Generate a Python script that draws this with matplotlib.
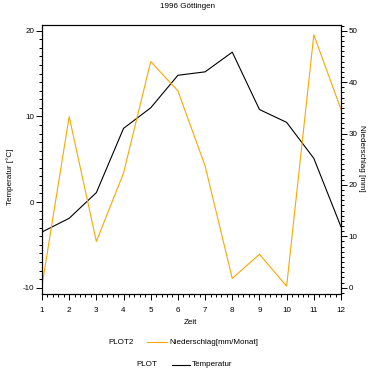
import matplotlib
matplotlib.use("Agg")
import matplotlib.pyplot as plt
from matplotlib.ticker import MultipleLocator
from matplotlib.lines import Line2D

plt.rcParams['font.family'] = ['Liberation Sans', 'DejaVu Sans']

# ---- data ----
months = [1, 2, 3, 4, 5, 6, 7, 8, 9, 10, 11, 12]
temperature = [-3.5, -1.9, 1.1, 8.6, 11.0, 14.8, 15.2, 17.5, 10.8, 9.3, 5.1, -2.9]
precipitation = [0.4, 33.3, 9.0, 22.3, 44.0, 38.3, 23.7, 1.8, 6.5, 0.3, 49.2, 34.7]

x_ticks = list(range(1, 13))
left_ticks = [-10, 0, 10, 20]
right_ticks = [0, 10, 20, 30, 40, 50]

title = "1996 Göttingen"
xlabel = "Zeit"
left_label = "Temperatur [°C]"
right_label = "Niederschlag [mm]"
legend_rows = [("PLOT2", "Niederschlag[mm/Monat]"), ("PLOT", "Temperatur")]

ORANGE = '#ffa500'
FS = 5.8
W, H = 374, 374

fig = plt.figure(figsize=(W / 100, H / 100), dpi=100)
L, R, T, B = 42, 341, 25, 294
ax = fig.add_axes([L / W, 1 - B / H, (R - L) / W, (B - T) / H])

ax.plot(months, temperature, color='black', lw=0.8)
ax.set_xlim(1, 12)
ax.set_ylim(-10.74, 20.67)
ax.set_xticks(x_ticks)
ax.set_xticklabels([str(v) for v in x_ticks])
ax.xaxis.set_minor_locator(MultipleLocator(0.2))
ax.set_yticks(left_ticks)
ax.set_yticklabels([str(v) for v in left_ticks])
ax.yaxis.set_minor_locator(MultipleLocator(1))

ax2 = ax.twinx()
ax2.plot(months, precipitation, color=ORANGE, lw=0.8)
ax2.set_ylim(-1.23, 51.12)
ax2.set_yticks(right_ticks)
ax2.set_yticklabels([str(v) for v in right_ticks])
ax2.yaxis.set_minor_locator(MultipleLocator(1))

for a in (ax, ax2):
    for s in a.spines.values():
        s.set_linewidth(0.8)
    a.tick_params(which='major', direction='out', length=4, width=0.7,
                  labelsize=FS, pad=1.5)
    a.tick_params(which='minor', direction='out', length=2.2, width=0.7)
ax.tick_params(axis='x', which='major', pad=5)

fig.text(187 / W, 1 - 7 / H, title, ha='center', va='center', fontsize=FS)
fig.text(190 / W, 1 - 323 / H, xlabel, ha='center', va='center', fontsize=FS)
fig.text(10 / W, 1 - 177 / H, left_label, ha='center', va='center',
         rotation=90, fontsize=FS)
fig.text(362 / W, 1 - 158 / H, right_label, ha='center', va='center',
         rotation=270, fontsize=FS)

# legend rows
row_y = [342, 365]
name_x = [108, 136]
line_x = [(147, 167), (172, 190)]
colors = [ORANGE, 'black']
for (name, label), yy, nx, (x0, x1), c in zip(legend_rows, row_y, name_x, line_x, colors):
    fig.text(nx / W, 1 - yy / H, name, ha='left', va='center', fontsize=FS)
    fig.add_artist(Line2D([x0 / W, x1 / W], [1 - yy / H, 1 - yy / H],
                          transform=fig.transFigure, color=c, lw=0.8))
    fig.text((x1 + 2) / W, 1 - yy / H, label, ha='left', va='center', fontsize=FS)

fig.savefig('out.png', dpi=100)
